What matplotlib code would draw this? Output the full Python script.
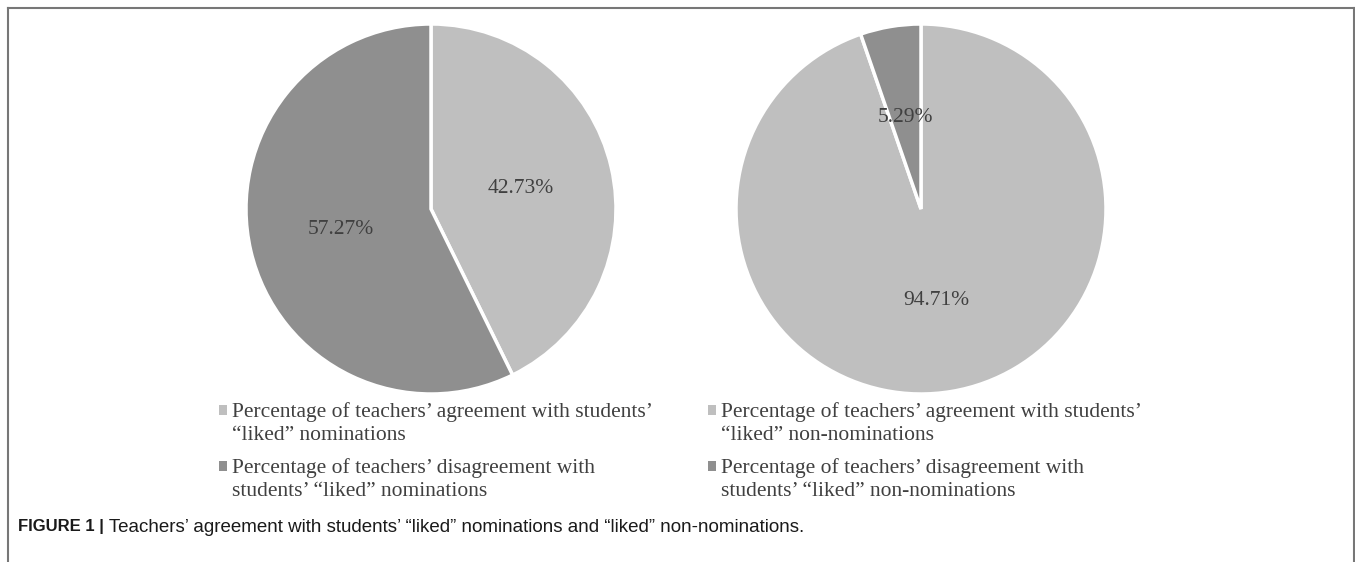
import matplotlib
matplotlib.use("Agg")
import matplotlib.pyplot as plt
from matplotlib.lines import Line2D
from matplotlib.patches import Patch, Rectangle
from matplotlib.legend_handler import HandlerPatch

# data
left_labels = ["Percentage of teachers’ agreement with students’\n“liked” nominations",
               "Percentage of teachers’ disagreement with\nstudents’ “liked” nominations"]
left_values = [42.73, 57.27]
right_labels = ["Percentage of teachers’ agreement with students’\n“liked” non-nominations",
                "Percentage of teachers’ disagreement with\nstudents’ “liked” non-nominations"]
right_values = [94.71, 5.29]
colors = ["#bfbfbf", "#8f8f8f"]
caption_bold = "FIGURE 1 |"
caption_text = " Teachers’ agreement with students’ “liked” nominations and “liked” non-nominations."

W, H = 1355, 562
fig = plt.figure(figsize=(W / 100, H / 100), dpi=100)
serif = ["Liberation Serif", "DejaVu Serif"]


def top_square(legend, orig_handle, xdescent, ydescent, width, height, fontsize):
    # put the marker next to the first line of a two-line label
    return Rectangle((-xdescent, -ydescent + 0.6 * fontsize), width, height)


def px_axes(cx, cy, r):
    # axes box from pixel centre (top-left origin) and radius
    return fig.add_axes([(cx - r) / W, (H - cy - r) / H, 2 * r / W, 2 * r / H])


def draw_pie(ax, values, labels, leg_x, leg_y):
    wedges, _, autotexts = ax.pie(values, colors=colors, startangle=90, counterclock=False,
                                  autopct="%.2f%%", pctdistance=0.5,
                                  wedgeprops=dict(edgecolor="white", linewidth=2.5))
    for t in autotexts:
        t.set_fontfamily(serif)
        t.set_fontsize(15.5)
        t.set_color("#404040")
    ax.set_xlim(-1, 1)
    ax.set_ylim(-1, 1)
    ax.axis("off")
    handles = [Patch(facecolor=c, edgecolor="none") for c in colors]
    leg = fig.legend(handles, labels, loc="upper left",
                     bbox_to_anchor=(leg_x / W, 1 - leg_y / H), frameon=False,
                     prop=dict(family=serif, size=15.5), labelcolor="#404040",
                     handlelength=0.36, handleheight=0.36, handletextpad=0.25,
                     labelspacing=0.6, borderpad=0, borderaxespad=0,
                     handler_map={Patch: HandlerPatch(patch_func=top_square)})
    for t in leg.get_texts():
        t.set_linespacing(1.3)


ax1 = px_axes(431, 209, 185)
draw_pie(ax1, left_values, left_labels, 219, 402)
ax2 = px_axes(921, 209, 185)
draw_pie(ax2, right_values, right_labels, 708, 402)

# frame around the figure
fc = "#777777"
fig.add_artist(Line2D([8 / W, 1354 / W], [1 - 8 / H, 1 - 8 / H], color=fc, lw=1.5))
fig.add_artist(Line2D([8 / W, 8 / W], [1 - 8 / H, 0], color=fc, lw=1.5))
fig.add_artist(Line2D([1354 / W, 1354 / W], [1 - 8 / H, 0], color=fc, lw=1.5))

# caption
t1 = fig.text(18 / W, 1 - 527 / H, caption_bold, fontsize=12, fontweight="bold",
              family="Liberation Sans", va="center", color="#1a1a1a")
fig.canvas.draw()
bb = t1.get_window_extent()
fig.text(bb.x1 / W, 1 - 527 / H, caption_text, fontsize=13.5,
         family="Liberation Sans", va="center", color="#1a1a1a")

fig.savefig("out.png", dpi=100)
